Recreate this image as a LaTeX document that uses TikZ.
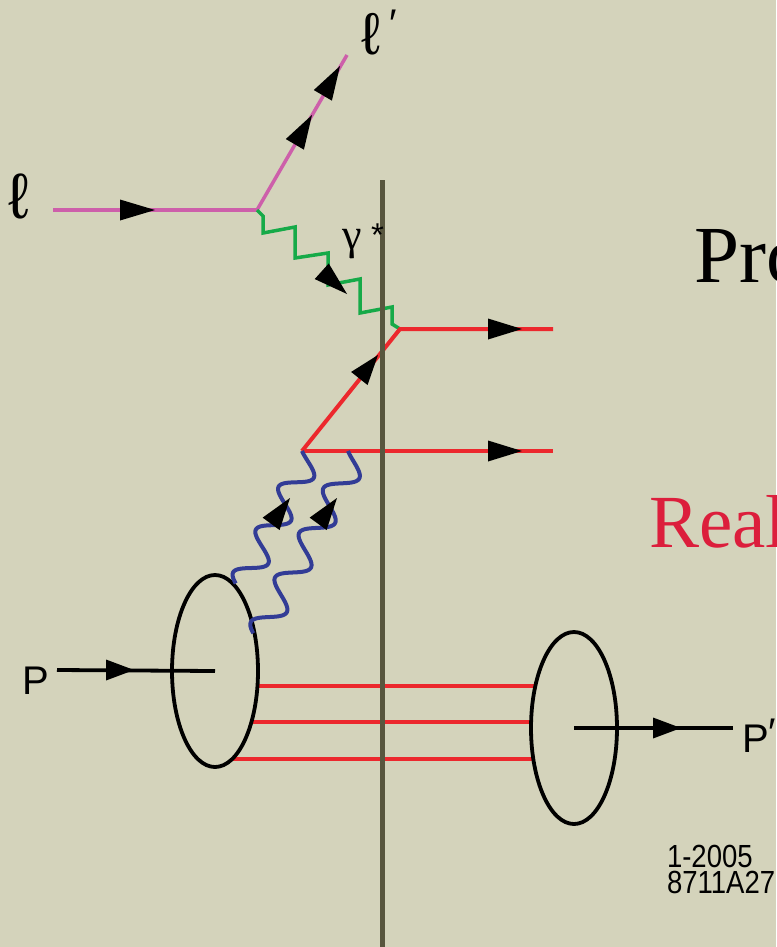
\documentclass[tikz,border=0pt]{standalone}
\usepackage{fontspec}
\usetikzlibrary{shapes.geometric}
\newfontfamily\hsans{Liberation Sans}
\newfontfamily\hnarrow[FakeStretch=0.86]{Liberation Sans}
\newfontfamily\tserif{Liberation Serif}
\definecolor{bg}{RGB}{212,211,187}
\definecolor{lepc}{RGB}{205,95,170}
\definecolor{phoc}{RGB}{22,170,72}
\definecolor{quac}{RGB}{236,40,45}
\definecolor{gluc}{RGB}{50,60,150}
\definecolor{cutc}{RGB}{88,86,62}
\definecolor{realc}{RGB}{220,30,60}
\newcommand{\tiphead}[3]{\fill[black,shift={#1},rotate=#2] (0,0) -- (-#3,10.5) -- (-#3,-10.5) -- cycle;}
\begin{document}
\begin{tikzpicture}[x=1pt,y=-1pt,
  lep/.style={draw=lepc,line width=3.5pt},
  photon/.style={draw=phoc,line width=3.5pt,line join=miter},
  quark/.style={draw=quac,line width=4pt},
  gluon/.style={draw=gluc,line width=4pt},
  prot/.style={draw=black,line width=3.8pt},
  blob/.style={ellipse,draw=black,line width=3.8pt,minimum width=86pt,minimum height=192pt,inner sep=0pt,outer sep=0pt},
  cutline/.style={draw=cutc,line width=5pt},
  lbl/.style={anchor=base west,inner sep=0pt,outer sep=0pt}]
\fill[bg] (0,0) rectangle (776,947);
\clip (0,0) rectangle (776,947);

% coordinates
\coordinate (lin) at (53,210);
\coordinate (v1) at (257,210);
\coordinate (lout) at (347,55);
\coordinate (v2) at (400,329);
\coordinate (v3) at (302,451);
\coordinate (q1) at (553,329);
\coordinate (q2) at (553,451);
\coordinate (g1) at (302,451);
\coordinate (g2) at (348,451);
\coordinate (cutT) at (382.5,180);
\coordinate (cutB) at (382.5,947);

% spectator quarks
\coordinate (s1a) at (257,686); \coordinate (s1b) at (536,686);
\coordinate (s2a) at (252,722); \coordinate (s2b) at (532,722);
\coordinate (s3a) at (233,759); \coordinate (s3b) at (535,759);
\draw[quark] (s1a) -- (s1b);
\draw[quark] (s2a) -- (s2b);
\draw[quark] (s3a) -- (s3b);

% protons
\node[blob] (pin) at (215,671) {};
\node[blob] (pout) at (574,728) {};
\coordinate (pa) at (57,670);
\coordinate (pc) at (733,728);
\draw[prot] (pa) -- (pin.center);
\draw[prot] (pout.center) -- (pc);

% leptons
\draw[lep] (lin) -- (v1);
\draw[lep] (v1) -- (lout);

% photon
\draw[photon] (v1) -- (263,216) -- (263,233) -- (295,227) -- (295,258) -- (328,253) -- (328,285) -- (360,279) -- (360,313) -- (392,307) -- (392,324) -- (v2);

% quarks
\draw[quark] (v3) -- (v2) -- (q1);
\draw[quark] (v3) -- (q2);

% gluons
\draw[gluon,shift={(g1)}] plot[domain=0:148,samples=240,variable=\t]
  ({-0.469*\t+11.88*(sin(7.423*\t-45)+0.7071)},{0.884*\t+6.345*(sin(7.423*\t-45)+0.7071)});
\draw[gluon,shift={(g2)}] plot[domain=0:196.5,samples=320,variable=\t]
  ({-0.498*\t+11.88*(sin(7.423*\t-45)+0.7071)},{0.919*\t+6.345*(sin(7.423*\t-45)+0.7071)});

% arrowheads
\tiphead{(155,210)}{0}{35}
\tiphead{(312,115)}{59.7}{34}
\tiphead{(340,66)}{59.7}{34}
\tiphead{(347,294)}{-42}{34}
\tiphead{(378,355)}{51.5}{30}
\tiphead{(522,329)}{0}{34}
\tiphead{(522,451)}{0}{34}
\tiphead{(290,498)}{53.8}{32}
\tiphead{(337,498)}{53.8}{32}
\tiphead{(134,670)}{0}{28}
\tiphead{(681,728)}{0}{28}

% cut line
\draw[cutline] (cutT) -- (cutB);

% labels
\node[lbl,font={\hsans\fontsize{64}{70}\selectfont}] (l1) at (9,218) {ℓ};
\node[lbl,font={\hsans\fontsize{59}{66}\selectfont}] (l2) at (361,55) {ℓ};
\node[lbl,font={\hsans\fontsize{40}{48}\selectfont}] (l2p) at (389,38) {′};
\node[lbl,font={\tserif\fontsize{44}{50}\selectfont}] (gam) at (342,249) {γ};
\node[lbl,font={\hsans\fontsize{33}{38}\selectfont}] (ast) at (371,246) {*};
\node[lbl,font={\hsans\fontsize{40}{48}\selectfont}] (Plab) at (22,694) {P};
\node[lbl,font={\hsans\fontsize{40}{48}\selectfont}] (Pplab) at (742,752) {P\raisebox{6pt}{′}};
\node[lbl,font={\tserif\fontsize{81}{90}\selectfont}] (pro) at (694,282) {Pro};
\node[lbl,font={\tserif\fontsize{75}{84}\selectfont},text=realc] (real) at (649,547) {Real};
\node[lbl,font={\hnarrow\fontsize{32}{38}\selectfont}] (d1) at (667,867) {1-2005};
\node[lbl,font={\hnarrow\fontsize{32}{38}\selectfont}] (d2) at (667,893) {8711A27};
\end{tikzpicture}
\end{document}
